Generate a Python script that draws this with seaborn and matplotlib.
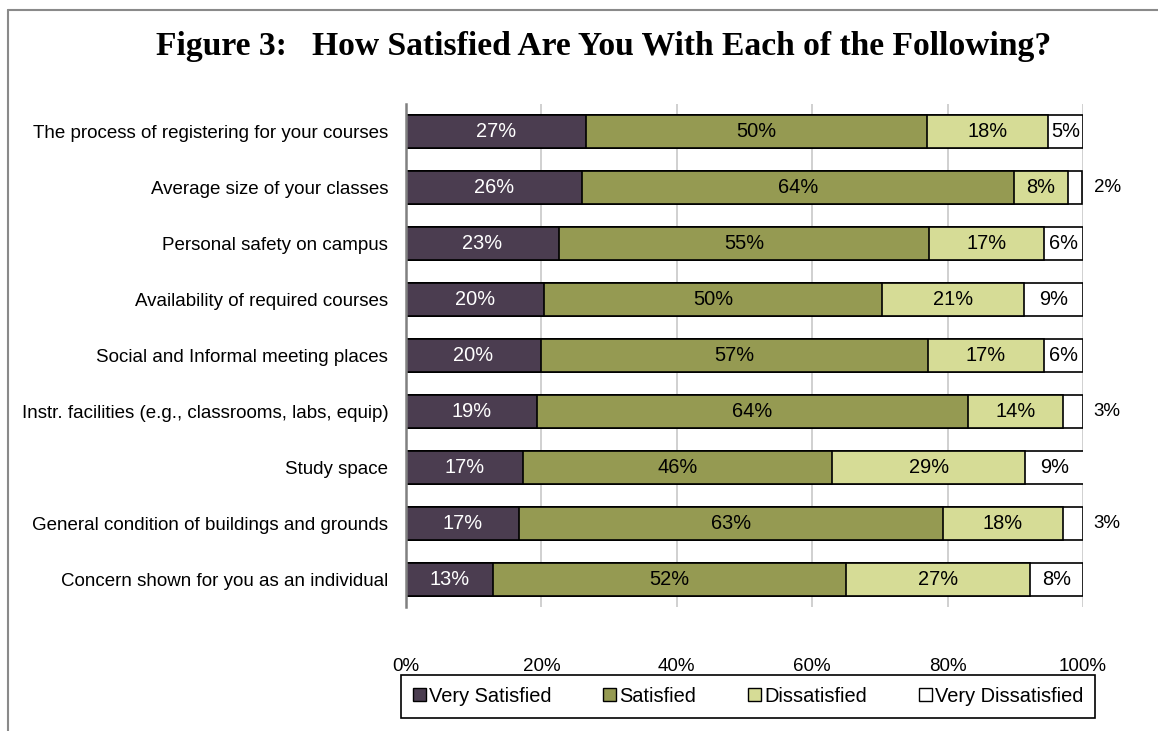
import numpy as np
import pandas as pd
import matplotlib
matplotlib.use("Agg")
import matplotlib.pyplot as plt
from matplotlib.patches import Patch
from matplotlib.lines import Line2D
import seaborn as sns

categories = [
    "The process of registering for your courses",
    "Average size of your classes",
    "Personal safety on campus",
    "Availability of required courses",
    "Social and Informal meeting places",
    "Instr. facilities (e.g., classrooms, labs, equip)",
    "Study space",
    "General condition of buildings and grounds",
    "Concern shown for you as an individual",
]
very_satisfied = [26.6, 26.0, 22.6, 20.4, 19.9, 19.4, 17.3, 16.7, 12.9]
satisfied = [50.4, 63.8, 54.6, 49.9, 57.2, 63.6, 45.6, 62.6, 52.1]
dissatisfied = [17.9, 8.0, 17.0, 21.0, 17.1, 14.0, 28.6, 17.7, 27.2]
very_dissatisfied = [5.1, 2.0, 5.8, 8.7, 5.8, 3.0, 8.6, 3.0, 7.8]

series_names = ["Very Satisfied", "Satisfied", "Dissatisfied", "Very Dissatisfied"]
series_values = [very_satisfied, satisfied, dissatisfied, very_dissatisfied]
colors = ["#4B3D50", "#959A52", "#D6DC96", "#FFFFFF"]
text_colors = ["white", "black", "black", "black"]
xtick_values = [0, 20, 40, 60, 80, 100]
xtick_labels = ["0%", "20%", "40%", "60%", "80%", "100%"]

sns.set_style("white")
plt.rcParams["font.family"] = ["Liberation Sans", "DejaVu Sans"]
plt.rcParams["text.color"] = "black"
plt.rcParams["xtick.color"] = "black"
plt.rcParams["ytick.color"] = "black"
plt.rcParams["xtick.labelcolor"] = "black"
plt.rcParams["ytick.labelcolor"] = "black"

W, H = 1158, 731
fig = plt.figure(figsize=(W / 100, H / 100), dpi=100)
ax = fig.add_axes([406 / W, 1 - 607 / H, 677 / W, 503 / H])

cum = np.cumsum(np.array(series_values), axis=0)
df_cum = pd.DataFrame(
    {"category": categories * 4,
     "series": np.repeat(series_names, len(categories)),
     "cum": cum.ravel()}
)

# draw from largest cumulative to smallest so segments stack
ax.set_axisbelow(True)
for s_i in range(3, -1, -1):
    sub = df_cum[df_cum["series"] == series_names[s_i]]
    sns.barplot(data=sub, x="cum", y="category", orient="h", color=colors[s_i],
                saturation=1, width=0.59, edgecolor="black", linewidth=1.2,
                ax=ax, order=categories, zorder=3)

# labels
starts = np.vstack([np.zeros(len(categories)), cum[:-1]])
for s_i in range(4):
    for r in range(len(categories)):
        v = series_values[s_i][r]
        lab = f"{v:.0f}%"
        if v >= 4.5:
            ax.text(starts[s_i][r] + v / 2, r, lab, ha="center", va="center",
                    fontsize=14.4, color=text_colors[s_i], zorder=5)
        else:
            ax.text(101.6, r, lab, ha="left", va="center", fontsize=13.5,
                    color="black", zorder=5, clip_on=False)

ax.set_xlim(0, 100)
ax.set_ylim(8.5, -0.5)
ax.set_xticks(xtick_values)
ax.set_xticklabels(xtick_labels)
ax.tick_params(axis="x", length=0, pad=37, labelsize=13.5, labelcolor="black")
ax.tick_params(axis="y", length=0, pad=12.7, labelsize=13.5, labelcolor="black")
ax.set_xlabel("")
ax.set_ylabel("")
ax.grid(axis="x", color="#C8C8C8", linewidth=1.2, zorder=0)
ax.grid(axis="y", visible=False)
for sp in ["top", "right", "bottom"]:
    ax.spines[sp].set_visible(False)
ax.spines["left"].set_color("#808080")
ax.spines["left"].set_linewidth(1.8)
ax.spines["left"].set_zorder(4)

# title
fig.text(604 / W, 1 - 55 / H, "Figure 3:   How Satisfied Are You With Each of the Following?",
         ha="center", va="baseline", fontsize=24.2, fontweight="bold", color="black",
         family=["Liberation Serif", "DejaVu Serif"])

# legend
handles = [Patch(facecolor=c, edgecolor="black", linewidth=1.0) for c in colors]
leg = fig.legend(handles, series_names, loc="center", bbox_to_anchor=(748 / W, 1 - 696 / H),
                 ncol=4, frameon=True, fontsize=14.4, handlelength=0.65, handleheight=0.65,
                 handletextpad=0.15, columnspacing=2.6, borderpad=0.6, borderaxespad=0,
                 fancybox=False, labelcolor="black")
leg.get_frame().set_edgecolor("black")
leg.get_frame().set_linewidth(1.2)
leg.get_frame().set_alpha(None)
leg._legend_box.sep = 0

# outer frame lines (left and top)
fig.add_artist(Line2D([8 / W, 8 / W], [0, 1 - 10 / H], transform=fig.transFigure,
                      color="#8A8A8A", linewidth=1.5))
fig.add_artist(Line2D([8 / W, 1], [1 - 10 / H, 1 - 10 / H], transform=fig.transFigure,
                      color="#8A8A8A", linewidth=1.5))

fig.savefig("out.png", dpi=100)
